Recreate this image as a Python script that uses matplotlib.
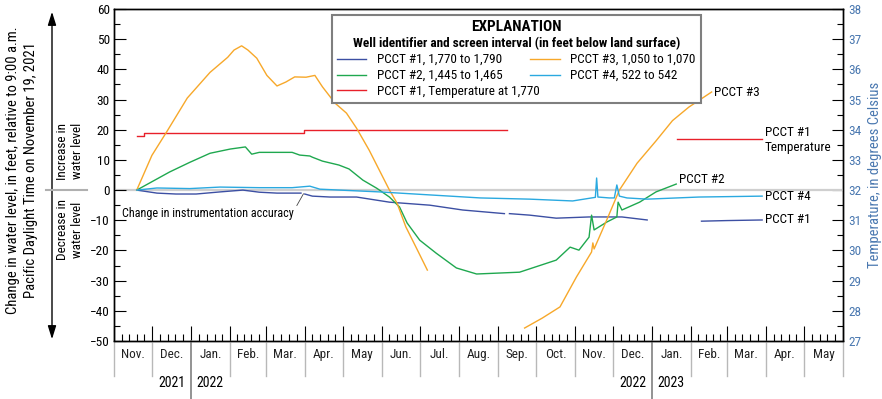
import numpy as np
import pandas as pd
import matplotlib.pyplot as plt
import matplotlib.dates as mdates
import matplotlib.transforms as mtrans
from matplotlib.lines import Line2D
from matplotlib.patches import FancyArrowPatch
from matplotlib.offsetbox import TextArea

# ---- data (change in water level, feet; temperature, deg C) ----
pcct1_a_dates = ['2021-11-19', '2021-12-05', '2021-12-20', '2022-01-05', '2022-01-24',
                 '2022-02-11', '2022-02-24', '2022-03-10', '2022-03-29']
pcct1_a_vals = [0, -1.0, -1.3, -1.3, -0.6, 0, -0.7, -1.0, -1.0]
pcct1_b_dates = ['2022-04-01', '2022-04-07', '2022-04-21', '2022-05-12', '2022-06-07',
                 '2022-07-09', '2022-08-04', '2022-09-06']
pcct1_b_vals = [-1.3, -2.0, -2.3, -2.3, -4.0, -5.0, -6.6, -7.8]
pcct1_c_dates = ['2022-09-10', '2022-09-26', '2022-10-17', '2022-11-12', '2022-12-08', '2022-12-28']
pcct1_c_vals = [-7.8, -8.3, -9.3, -8.9, -8.9, -9.9]
pcct1_d_dates = ['2023-02-09', '2023-03-01', '2023-03-29']
pcct1_d_vals = [-10.3, -10.1, -9.9]

pcct2_dates = ['2021-11-19', '2021-12-15', '2021-12-31', '2022-01-16', '2022-02-01', '2022-02-13',
               '2022-02-18', '2022-02-24', '2022-03-10', '2022-03-22', '2022-03-28', '2022-04-05',
               '2022-04-07', '2022-04-15', '2022-04-28', '2022-05-06', '2022-05-17', '2022-05-28',
               '2022-06-07', '2022-06-15', '2022-06-21', '2022-07-01', '2022-07-14', '2022-07-30',
               '2022-08-15', '2022-09-01', '2022-09-18', '2022-10-17', '2022-10-28', '2022-11-04',
               '2022-11-12', '2022-11-14', '2022-11-16', '2022-11-26', '2022-12-04', '2022-12-05',
               '2022-12-08', '2022-12-22', '2023-01-04', '2023-01-20']
pcct2_vals = [0, 6.0, 9.2, 12.2, 13.6, 14.3,
              11.9, 12.5, 12.5, 12.5, 11.6, 11.3,
              10.9, 9.6, 8.3, 7.0, 3.3, 0.6,
              -2.3, -5.6, -10.9, -16.6, -20.9, -25.8,
              -27.8, -27.5, -27.2, -23.2, -18.9, -19.9,
              -15.6, -8.3, -13.2, -10.6, -8.9, -4.0,
              -6.6, -4.0, -0.6, 2.0]

pcct3_a_dates = ['2021-11-19', '2021-12-01', '2021-12-13', '2021-12-29', '2022-01-16', '2022-01-30',
                 '2022-02-04', '2022-02-10', '2022-02-15', '2022-02-22', '2022-03-02', '2022-03-10',
                 '2022-03-17', '2022-03-24', '2022-04-02', '2022-04-09', '2022-04-15', '2022-04-25',
                 '2022-05-04', '2022-05-12', '2022-05-22', '2022-05-30', '2022-06-07', '2022-06-13',
                 '2022-06-20', '2022-06-28', '2022-07-07']
pcct3_a_vals = [0, 11.5, 19.5, 30.5, 39, 44,
                46.4, 47.8, 46.4, 43.7, 38, 34.5,
                35.8, 37.5, 37.4, 38, 34.2, 28.8,
                25.5, 20.5, 13.2, 6.6, 0, -4.3,
                -12.2, -18.9, -26.5]
pcct3_b_dates = ['2022-09-22', '2022-10-06', '2022-10-20', '2022-11-02', '2022-11-14', '2022-11-15',
                 '2022-11-16', '2022-11-26', '2022-12-06', '2022-12-20', '2023-01-04', '2023-01-17',
                 '2023-01-30', '2023-02-17']
pcct3_b_vals = [-45.7, -42.4, -38.7, -28.8, -20.5, -17.5,
                -19.5, -9.9, 0, 8.9, 16.3, 23,
                27.5, 32.5]

pcct4_dates = ['2021-11-19', '2021-12-05', '2021-12-31', '2022-01-24', '2022-02-24', '2022-03-22',
               '2022-04-05', '2022-04-13', '2022-05-30', '2022-07-09', '2022-08-18', '2022-09-26',
               '2022-10-30', '2022-11-14', '2022-11-17', '2022-11-18', '2022-11-19', '2022-11-28',
               '2022-12-02', '2022-12-04', '2022-12-06', '2022-12-12', '2022-12-28', '2023-02-07',
               '2023-03-29']
pcct4_vals = [0, 0.7, 0.5, 1.0, 0.8, 0.8,
              1.3, 0.3, -0.6, -1.6, -2.6, -3.0,
              -3.6, -2.6, -2.4, 4.0, -2.3, -2.6,
              -2.6, 1.7, -2.0, -2.6, -3.0, -2.3,
              -2.0]

temp_a_dates = ['2021-11-19', '2021-11-25', '2022-03-31', '2022-09-08']
temp_a_vals = [33.8, 33.9, 34.0, 34.0]
temp_b_dates = ['2023-01-21', '2023-03-29']
temp_b_vals = [33.7, 33.7]

month_labels = ['Nov.', 'Dec.', 'Jan.', 'Feb.', 'Mar.', 'Apr.', 'May', 'Jun.', 'Jul.', 'Aug.',
                'Sep.', 'Oct.', 'Nov.', 'Dec.', 'Jan.', 'Feb.', 'Mar.', 'Apr.', 'May']
year_breaks = [('2022-01-01', '2021', '2022'), ('2023-01-01', '2022', '2023')]

legend_labels = ['PCCT #1, 1,770 to 1,790', 'PCCT #2, 1,445 to 1,465',
                 'PCCT #1, Temperature at 1,770', 'PCCT #3, 1,050 to 1,070',
                 'PCCT #4, 522 to 542']

c1 = '#3c4fa3'
c2 = '#1fa84f'
c3 = '#f7a82a'
c4 = '#2aa9e0'
ct = '#e8202a'
cblue = '#4a78b0'

plt.rcParams['font.family'] = ['Roboto Condensed', 'PT Sans Narrow', 'Archivo Narrow',
                               'Liberation Sans', 'DejaVu Sans']


def d(lst):
    return pd.to_datetime(lst)


fig = plt.figure(figsize=(8.82, 3.99), dpi=100)
ax = fig.add_axes([114 / 882, 1 - 341 / 399, 729 / 882, 332 / 399])
ax2 = ax.twinx()

ax.axhline(0, color='#cfcfcf', lw=1.6, zorder=1)

l1, = ax.plot(d(pcct1_a_dates), pcct1_a_vals, color=c1, lw=1.0, zorder=3)
ax.plot(d(pcct1_b_dates), pcct1_b_vals, color=c1, lw=1.0, zorder=3)
ax.plot(d(pcct1_c_dates), pcct1_c_vals, color=c1, lw=1.0, zorder=3)
ax.plot(d(pcct1_d_dates), pcct1_d_vals, color=c1, lw=1.0, zorder=3)
l2, = ax.plot(d(pcct2_dates), pcct2_vals, color=c2, lw=1.0, zorder=3)
l3, = ax.plot(d(pcct3_a_dates), pcct3_a_vals, color=c3, lw=1.0, zorder=3)
ax.plot(d(pcct3_b_dates), pcct3_b_vals, color=c3, lw=1.0, zorder=3)
l4, = ax.plot(d(pcct4_dates), pcct4_vals, color=c4, lw=1.0, zorder=3)
lt, = ax2.plot(d(temp_a_dates), temp_a_vals, color=ct, lw=1.0, drawstyle='steps-post')
ax2.plot(d(temp_b_dates), temp_b_vals, color=ct, lw=1.0)

ax.set_xlim(pd.Timestamp('2021-11-01'), pd.Timestamp('2023-06-01'))
ax.set_ylim(-50, 60)
ax2.set_ylim(27, 38)

# y ticks
ax.set_yticks(np.arange(-50, 61, 10))
ax.set_yticks(np.arange(-50, 61, 5), minor=True)
ax.tick_params(axis='y', which='major', direction='in', length=8.5, width=0.8, pad=3, labelsize=9.5)
ax.tick_params(axis='y', which='minor', direction='in', length=4.3, width=0.8)
ax2.set_yticks(np.arange(27, 39, 1))
ax2.set_yticks(np.arange(27, 38.01, 0.5), minor=True)
ax2.tick_params(axis='y', which='major', direction='in', length=8, width=0.8, pad=4,
                labelsize=9.5, labelcolor=cblue)
ax2.tick_params(axis='y', which='minor', direction='in', length=4, width=0.8)

# x ticks: months + 4 minor ticks per month
months = pd.date_range('2021-11-01', '2023-06-01', freq='MS')
mnum = mdates.date2num(months)
minor = [mnum[i] + k * (mnum[i + 1] - mnum[i]) / 5 for i in range(len(mnum) - 1) for k in range(1, 5)]
ax.set_xticks(mnum)
ax.set_xticks(minor, minor=True)
ax.tick_params(axis='x', which='major', direction='in', length=11, width=0.8, labelbottom=False)
ax.tick_params(axis='x', which='minor', direction='in', length=5, width=0.8)

for sp in ax.spines.values():
    sp.set_linewidth(1.0)
for sp in ax2.spines.values():
    sp.set_linewidth(1.0)

blend = mtrans.blended_transform_factory(ax.transData, ax.transAxes)
ybreak_nums = [mdates.date2num(pd.Timestamp(b[0])) for b in year_breaks]
for m in mnum:
    if m in ybreak_nums:
        ax.plot([m, m], [0, -0.175], transform=blend, clip_on=False, color='#8a8a8a', lw=1.3)
    else:
        ax.plot([m, m], [0, -0.105], transform=blend, clip_on=False, color='#b8b8b8', lw=1.0)
for i, lab in enumerate(month_labels):
    ax.text((mnum[i] + mnum[i + 1]) / 2, -0.042, lab, transform=blend, ha='center', va='center',
            fontsize=9.5, color='#222222')
for b, left, right in year_breaks:
    bn = mdates.date2num(pd.Timestamp(b))
    ax.annotate(left, xy=(bn, -0.128), xycoords=blend, xytext=(-4, 0), textcoords='offset points',
                ha='right', va='center', fontsize=10)
    ax.annotate(right, xy=(bn, -0.128), xycoords=blend, xytext=(4, 0), textcoords='offset points',
                ha='left', va='center', fontsize=10)

# series labels at the line ends
ax.annotate('PCCT #3', xy=(d(pcct3_b_dates)[-1], pcct3_b_vals[-1]), xytext=(2, 0),
            textcoords='offset points', ha='left', va='center', fontsize=9.5)
ax.annotate('PCCT #2', xy=(d(pcct2_dates)[-1], pcct2_vals[-1]), xytext=(2, 3),
            textcoords='offset points', ha='left', va='center', fontsize=9.5)
ax.annotate('PCCT #4', xy=(d(pcct4_dates)[-1], pcct4_vals[-1]), xytext=(2, 0),
            textcoords='offset points', ha='left', va='center', fontsize=9.5)
ax.annotate('PCCT #1', xy=(d(pcct1_d_dates)[-1], pcct1_d_vals[-1]), xytext=(2, 0),
            textcoords='offset points', ha='left', va='center', fontsize=9.5)
ax2.annotate('PCCT #1\nTemperature', xy=(d(temp_b_dates)[-1], temp_b_vals[-1]), xytext=(2, -1),
             textcoords='offset points', ha='left', va='center', fontsize=9.5, linespacing=1.2)

ax.annotate('Change in instrumentation accuracy', xy=(pd.Timestamp('2022-03-31'), -1.2),
            xytext=(pd.Timestamp('2021-11-07'), -7.6), ha='left', va='center', fontsize=8.7,
            arrowprops=dict(arrowstyle='-', color='#444444', lw=0.6, relpos=(1.0, 0.6),
                            shrinkA=1, shrinkB=0))

# legend: heading as title, subheading packed in below it
leg = ax.legend([l1, l2, lt, l3, l4], legend_labels, ncol=2, loc='upper center',
                bbox_to_anchor=(0.552, 0.982), borderaxespad=0, fontsize=9.5, frameon=True,
                fancybox=False, edgecolor='#7f7f7f', framealpha=1, handlelength=2.2,
                handletextpad=0.8, columnspacing=-0.7, labelspacing=0.22, borderpad=0.4,
                title='EXPLANATION', title_fontproperties={'weight': 'bold', 'size': 11})
sub = TextArea('Well identifier and screen interval (in feet below land surface)',
               textprops=dict(fontsize=9.5, fontweight='bold'))
sub.set_figure(fig)
leg._legend_box._children.insert(1, sub)
leg.get_frame().set_linewidth(1.5)
for h in leg.legend_handles:
    h.set_linewidth(1.0)
leg.set_zorder(5)
ax.set_zorder(ax2.get_zorder() + 1)
ax.patch.set_visible(False)

# axis titles
fig.text(22 / 882, 1 - 170 / 399,
         'Change in water level, in feet, relative to 9:00 a.m.\nPacific Daylight Time on November 19, 2021',
         rotation=90, ha='center', va='center', fontsize=10.5, linespacing=1.4)
fig.text(875 / 882, 1 - 175 / 399, 'Temperature, in degrees Celsius', rotation=90,
         ha='center', va='center', fontsize=10.5, color=cblue)

fig.add_artist(FancyArrowPatch((52 / 882, 1 - 9 / 399), (52 / 882, 1 - 342 / 399),
                               transform=fig.transFigure,
                               arrowstyle='<|-|>,head_length=0.8,head_width=0.25',
                               mutation_scale=10, color='black', lw=1.0))
fig.add_artist(Line2D([46 / 882, 87 / 882], [1 - 190 / 399] * 2, color='#b0b0b0', lw=1.5))
fig.text(70 / 882, 1 - 151 / 399, 'Increase in\nwater level', rotation=90, ha='center',
         va='center', fontsize=9.5, linespacing=1.2)
fig.text(70 / 882, 1 - 230 / 399, 'Decrease in\nwater level', rotation=90, ha='center',
         va='center', fontsize=9.5, linespacing=1.2)

fig.savefig('out.png', dpi=100)
